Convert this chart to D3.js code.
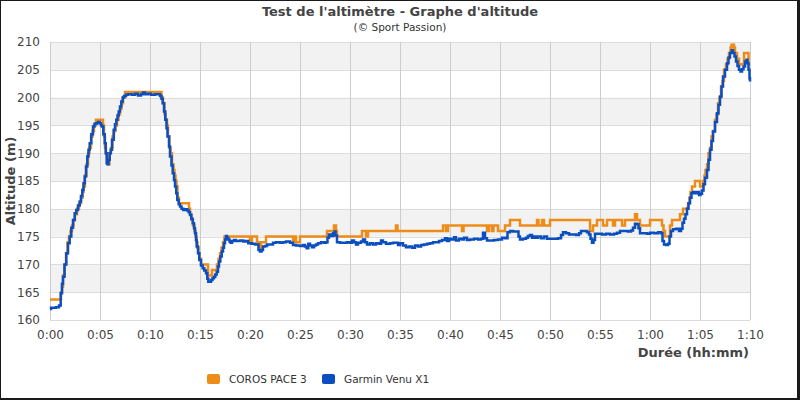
<!DOCTYPE html>
<html><head><meta charset="utf-8">
<script src="https://cdn.jsdelivr.net/npm/d3@7"></script>
<style>html,body{margin:0;padding:0;background:#fff}svg{display:block}</style>
</head><body>
<script>
const title = "Test de l'altimètre - Graphe d'altitude";
const subtitle = "(© Sport Passion)";
const yTitle = "Altitude (m)";
const xTitle = "Durée (hh:mm)";
const seriesNames = ["COROS PACE 3", "Garmin Venu X1"];
const seriesColors = ["#EE8C1A", "#0A4EC0"];
const yTicks = [160,165,170,175,180,185,190,195,200,205,210];
const xTicks = [0,5,10,15,20,25,30,35,40,45,50,55,60,65,70]; // minutes

// COROS PACE 3: [minutes, altitude] (step changes)
const coros = [
[0,163.7],[1.1,165],[1.2,166],[1.3,168],[1.45,170],[1.6,172],[1.75,174],[1.9,175],[2.05,176],[2.2,177],[2.35,178],[2.5,179],[2.7,180],[2.9,181],[3.1,182],[3.25,183],[3.35,184],[3.5,186],[3.65,188],[3.8,190],[3.95,191],[4.1,193],[4.25,194],[4.4,195],[4.6,196],
[5.3,195],[5.4,193],[5.5,191],[5.6,190],[5.7,189],[5.8,188],[5.95,190],[6.1,191],[6.25,193],[6.4,194],[6.55,195],[6.7,196],[6.85,197],[7.0,198],[7.15,199],[7.3,200],[7.5,201],
[11.15,200],[11.3,199],[11.45,197],[11.55,196],[11.7,195],[11.8,193],[11.95,191],[12.05,190],[12.2,188],[12.35,187],[12.45,186],[12.55,185],[12.65,184],[12.75,182],[12.9,181],
[13.9,180],[14.0,179],[14.15,178],[14.3,177],[14.45,176],[14.55,175],[14.65,174],[14.75,173],[14.85,172],[14.95,171],[15.1,170],[15.8,168],[16.2,169],[16.7,170],[16.85,171],[17.0,172],[17.15,173],[17.3,174],[17.45,175],
[20.0,174],[20.2,175],[20.7,174],[20.9,173],[21.1,174],[21.6,175],[24.3,174],[24.5,175],[24.6,174],[25.0,175],
[27.7,176],[28.4,177],[28.6,176],[28.7,175],[31.2,176],[31.6,175],[31.8,176],[34.6,177],[34.75,176],
[39.3,177],[39.6,176],[39.8,177],[41.2,176],[41.35,177],[43.7,176],[43.9,177],[44.2,176],[44.35,177],[44.8,176],[45.5,177],[46.0,178],[47.0,177],[48.7,178],[48.85,177],[49.2,178],[49.4,177],[50.0,178],
[54.0,176],[54.3,177],[54.7,178],[55.3,177],[55.7,178],[56.3,177],[56.5,178],[57.2,177],[57.5,178],[58.5,179],[58.7,178],[59.0,177],[60.0,178],[61.2,177],[61.35,176],[61.5,175],[62.0,177],[62.2,178],
[63.0,179],[63.3,180],[63.8,181],[63.95,182],[64.05,183],[64.2,184],[64.5,185],[65.0,184],[65.3,185],[65.45,186],[65.55,187],[65.7,188],[65.85,190],[66.0,191],[66.15,193],[66.3,194],[66.5,196],[66.65,197],[66.8,199],[66.95,200],[67.1,202],[67.25,203],[67.4,205],[67.6,206],[67.75,207],[67.9,208],[68.05,209],[68.15,209.5],[68.4,209],[68.5,208],[68.7,207],[68.9,206],[69.4,208],[69.85,206],[70,206]
];

// Garmin Venu X1: [minutes, altitude]
const garmin = [
[0,162.0],[0.1,162.2],[0.6,162.3],[0.9,162.6],[1.07,164.8],[1.2,166.5],[1.3,167.8],[1.45,170],[1.63,172],[1.8,173.8],[1.97,175],[2.13,176.6],[2.3,178],[2.47,179.2],[2.63,179.8],[2.8,180.6],[2.97,181.3],[3.1,182.3],[3.23,183.4],[3.35,184.6],[3.47,185.8],[3.6,187.6],[3.73,189.4],[3.85,190.6],[3.97,191.8],[4.13,193.4],[4.3,194.8],[4.45,195.3],[4.63,195.4],[4.8,195.6],[4.97,195.4],[5.1,195],[5.2,194.8],[5.33,193.4],[5.47,191.8],[5.57,190],[5.67,188.2],[5.75,188.0],[5.85,188.8],[5.97,190],[6.07,190.6],[6.2,192.4],[6.37,194.2],[6.5,195.2],[6.63,196],[6.75,196.8],[6.87,197.5],[7.0,198.4],[7.13,199.3],[7.27,200],[7.4,200.3],[7.6,200.5],[7.8,200.6],[8.2,200.5],[8.5,200.7],[8.8,200.4],[9.1,200.6],[9.3,200.9],[9.5,200.6],[9.8,200.7],[10.1,200.5],[10.5,200.6],[10.8,200.6],
[11.0,200.3],[11.15,199.8],[11.27,199],[11.4,197.5],[11.53,196],[11.65,194.5],[11.75,193],[11.9,191.2],[12.0,189.4],[12.15,187.8],[12.27,186.4],[12.4,185.2],[12.5,184],[12.62,182.8],[12.73,181.6],[12.87,180.8],[13.0,180.4],[13.15,180],[13.33,179.8],[13.55,179.9],[13.73,179.7],[13.87,179.4],[14.0,178.9],[14.13,178.2],[14.27,177.4],[14.4,176.5],[14.5,175.6],[14.6,174.4],[14.67,173.2],[14.8,172],[14.93,170.8],[15.1,169.8],[15.27,169.3],[15.43,168.9],[15.6,168.4],[15.73,167.4],[15.83,166.9],[16.0,166.9],[16.1,167.2],[16.25,167.5],[16.4,167.8],[16.53,168.2],[16.67,168.7],[16.8,169.6],[16.9,170.5],[17.03,171.4],[17.17,172.3],[17.3,173],[17.4,173.8],[17.5,174.5],[17.6,175.1],[17.7,174.8],[17.83,174.5],[17.95,174.1],[18.07,173.9],[18.2,174.2],[18.4,174.4],[18.6,174.2],[18.83,174.2],[19.0,174.3],[19.33,174.1],[19.6,174.2],[19.83,173.8],[20.17,173.7],[20.5,173.6],[20.7,173.6],[20.85,172.6],[21.0,172.3],[21.15,172.6],[21.3,173.2],[21.5,173.3],[21.7,173.6],[22.0,173.6],[22.3,173.9],[22.6,174.0],[23.0,173.9],[23.3,174.0],[23.6,174.1],[24.0,173.9],[24.3,173.5],[24.6,173.4],[25.0,173.3],[25.3,173.5],[25.5,173.2],[25.67,172.9],[25.83,173.7],[26.0,173.4],[26.2,173.1],[26.4,173.4],[26.6,173.6],[26.8,173.8],[27.1,174.0],[27.4,173.9],[27.6,174.0],[27.75,174.8],[27.9,175.4],[28.1,175.1],[28.3,175.6],[28.45,175.9],[28.55,175.2],[28.7,174.0],[29.0,173.9],[29.4,173.9],[29.7,174.0],[30.0,173.9],[30.2,174.3],[30.4,174.0],[30.6,173.6],[30.8,173.9],[31.1,174.1],[31.3,174.5],[31.5,174.0],[31.7,173.6],[32.0,173.8],[32.3,173.6],[32.6,173.8],[32.9,173.7],[33.1,174.3],[33.3,174.0],[33.6,173.7],[34.0,173.8],[34.3,173.9],[34.6,173.9],[34.8,173.5],[35.0,173.8],[35.3,173.4],[35.6,173.1],[35.9,173.2],[36.2,173.0],[36.5,173.4],[36.8,173.2],[37.1,173.5],[37.4,173.6],[37.7,173.7],[38.0,173.8],[38.3,174.0],[38.6,174.0],[38.9,174.2],[39.2,174.4],[39.5,174.7],[39.7,174.2],[39.9,174.6],[40.1,174.5],[40.4,174.9],[40.6,174.3],[40.9,174.6],[41.2,174.5],[41.4,174.8],[41.7,174.4],[42.0,174.5],[42.4,174.6],[42.8,174.5],[43.1,174.6],[43.3,175.7],[43.5,174.7],[43.7,174.3],[44.0,174.3],[44.4,174.4],[44.8,174.5],[45.2,174.8],[45.5,174.7],[45.75,175.8],[46.0,176],[46.3,175.9],[46.6,175.9],[46.85,175.0],[47.0,174.5],[47.3,174.6],[47.6,174.8],[47.8,175.1],[48.0,175.3],[48.2,174.8],[48.4,175.0],[48.6,174.8],[48.8,175.0],[49.1,174.7],[49.4,175.0],[49.7,174.6],[50.0,174.6],[50.4,174.6],[50.8,174.7],[51.1,175.3],[51.3,175.8],[51.6,175.6],[51.9,175.4],[52.2,175.4],[52.6,175.3],[52.9,175.6],[53.1,176.0],[53.4,176.0],[53.7,175.8],[53.9,175.4],[54.05,174.6],[54.2,173.9],[54.35,174.4],[54.5,175.5],[54.8,175.5],[55.2,175.4],[55.6,175.5],[56.0,175.4],[56.4,175.5],[56.7,175.7],[57.0,176.0],[57.4,176.0],[57.8,175.9],[58.1,176.1],[58.3,176.6],[58.5,177.3],[58.7,177.2],[58.85,176.5],[59.0,175.6],[59.3,175.6],[59.7,175.5],[60.0,175.7],[60.4,175.6],[60.8,175.8],[61.1,175.6],[61.25,174.2],[61.4,173.6],[61.6,173.5],[61.8,173.7],[61.95,175.0],[62.1,176.0],[62.3,176.3],[62.6,176.4],[62.9,176.0],[63.1,176.4],[63.25,177.5],[63.4,178.2],[63.55,179.0],[63.7,180.0],[63.85,181.0],[64.0,182.0],[64.15,182.8],[64.3,183.0],[64.5,182.8],[64.7,183.0],[64.9,182.5],[65.05,182.7],[65.2,183.3],[65.35,184.4],[65.5,185.6],[65.7,187.0],[65.85,188.8],[66.0,190.6],[66.15,192.2],[66.3,193.9],[66.5,195.6],[66.7,197.2],[66.85,198.7],[67.0,200.2],[67.15,202],[67.3,203.8],[67.5,205],[67.7,206.2],[67.85,207.2],[68.0,208.0],[68.17,208.5],[68.3,208.0],[68.45,207.4],[68.6,206.5],[68.75,205.7],[68.9,205.0],[69.05,204.7],[69.2,205.1],[69.35,205.6],[69.5,206.5],[69.65,206.8],[69.75,206.2],[69.85,205],[69.95,203.5],[70,202.9]
];

const W = 800, H = 400;
const m = {left: 50, right: 50, top: 42, bottom: 80};
const svg = d3.select("body").append("svg").attr("width", W).attr("height", H);

// frame
svg.append("rect").attr("width", W).attr("height", H).attr("fill", "#1a1a1a");
svg.append("rect").attr("x", 1).attr("y", 1).attr("width", W - 4).attr("height", H - 3).attr("fill", "#fff");

const x = d3.scaleLinear().domain([0, 70]).range([m.left, W - m.right]);
const y = d3.scaleLinear().domain([160, 210]).range([H - m.bottom, m.top]);

// bands
const g = svg.append("g");
for (let i = 0; i < yTicks.length - 1; i++) {
  if (i % 2 === 1) {
    g.append("rect").attr("x", x(0)).attr("width", x(70) - x(0))
      .attr("y", y(yTicks[i + 1])).attr("height", y(yTicks[i]) - y(yTicks[i + 1]))
      .attr("fill", "#f2f2f2");
  }
}
// grid
g.selectAll(".hg").data(yTicks).join("line")
  .attr("x1", x(0)).attr("x2", x(70))
  .attr("y1", d => Math.round(y(d)) + 0.5).attr("y2", d => Math.round(y(d)) + 0.5)
  .attr("stroke", "#dcdcdc").attr("stroke-width", 1);
g.selectAll(".vg").data(xTicks).join("line")
  .attr("y1", y(210)).attr("y2", y(160))
  .attr("x1", d => Math.round(x(d)) + 0.5).attr("x2", d => Math.round(x(d)) + 0.5)
  .attr("stroke", "#cccccc").attr("stroke-width", 1);

const fmt = d => Math.floor(d / 60) + ":" + String(d % 60).padStart(2, "0");

// axes (labels only)
const yAxis = svg.append("g").attr("transform", `translate(${m.left},0)`)
  .call(d3.axisLeft(y).tickValues(yTicks).tickSize(0).tickPadding(10));
yAxis.select(".domain").remove();
yAxis.selectAll("text").attr("font-family", "DejaVu Sans").attr("font-size", 12).attr("fill", "#444");

const xAxis = svg.append("g").attr("transform", `translate(0,${H - m.bottom})`)
  .call(d3.axisBottom(x).tickValues(xTicks).tickFormat(fmt).tickSize(0).tickPadding(10));
xAxis.select(".domain").remove();
xAxis.selectAll("text").attr("font-family", "DejaVu Sans").attr("font-size", 12).attr("fill", "#444");

// lines
const line = d3.line().x(d => x(d[0])).y(d => y(d[1])).curve(d3.curveStepAfter);
svg.append("path").datum(coros).attr("d", line).attr("fill", "none")
  .attr("stroke", seriesColors[0]).attr("stroke-width", 2.5);
svg.append("path").datum(garmin).attr("d", line).attr("fill", "none")
  .attr("stroke", seriesColors[1]).attr("stroke-width", 2.5);

// titles
svg.append("text").attr("x", 400).attr("y", 16).attr("text-anchor", "middle")
  .attr("font-family", "DejaVu Sans").attr("font-weight", "bold").attr("font-size", 13)
  .attr("fill", "#444").text(title);
svg.append("text").attr("x", 400).attr("y", 31).attr("text-anchor", "middle")
  .attr("font-family", "DejaVu Sans").attr("font-size", 10.5)
  .attr("fill", "#333").text(subtitle);
svg.append("text").attr("transform", "translate(15,181) rotate(-90)").attr("text-anchor", "middle")
  .attr("font-family", "DejaVu Sans").attr("font-weight", "bold").attr("font-size", 13)
  .attr("fill", "#444").text(yTitle);
svg.append("text").attr("x", 749).attr("y", 357).attr("text-anchor", "end")
  .attr("font-family", "DejaVu Sans").attr("font-weight", "bold").attr("font-size", 13)
  .attr("fill", "#444").text(xTitle);

// legend
const legX = [207, 322];
seriesNames.forEach((n, i) => {
  svg.append("rect").attr("x", legX[i]).attr("y", 374).attr("width", 13).attr("height", 10)
    .attr("rx", 2).attr("fill", seriesColors[i]);
  svg.append("text").attr("x", legX[i] + 22).attr("y", 383)
    .attr("font-family", "DejaVu Sans").attr("font-size", 10.5).attr("fill", "#333").text(n);
});
</script>
</body></html>
